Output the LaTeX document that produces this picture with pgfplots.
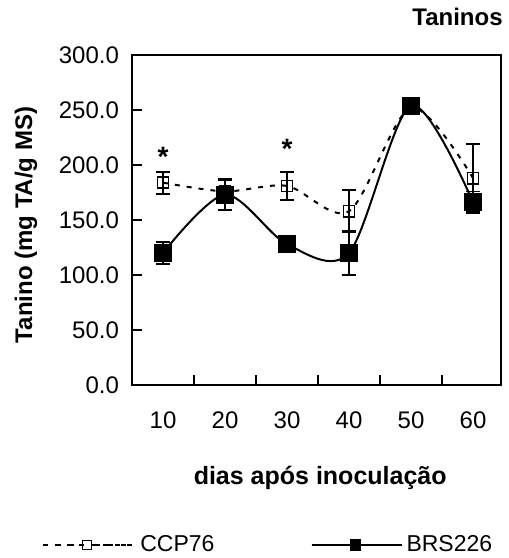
\documentclass[border=0pt]{standalone}
\usepackage{pgfplots}
\pgfplotsset{compat=1.18}
\usepackage{fontspec}
\setmainfont{Liberation Sans}
\begin{document}
\begin{tikzpicture}
\begin{axis}[
  width=184.5pt, height=165pt, scale only axis,
  font=\fontsize{12}{14}\selectfont,
  xmin=0.5, xmax=6.45, ymin=0, ymax=300,
  xtick={1.5,2.5,3.5,4.5,5.5}, xticklabels={},
  extra x ticks={1,2,3,4,5,6}, extra x tick labels={10,20,30,40,50,60},
  extra x tick style={major tick length=0pt, xticklabel style={yshift=-10pt}},
  major tick length=5pt, tick pos=left,
  tick align=inside, tick style={black, line width=0.7pt},
  ytick={0,50,...,300}, axis line style={line width=0.75pt},
  /pgf/number format/assume math mode=true,
  yticklabel style={/pgf/number format/fixed, /pgf/number format/fixed zerofill,
    /pgf/number format/precision=1, xshift=-3pt},
  xlabel={\fontsize{12.5}{14}\selectfont\bfseries dias após inoculação},
  xlabel style={at={(axis description cs:0.51,0)}, anchor=base, yshift=-49.5pt},
  ylabel={\bfseries Tanino (mg TA/g MS)},
  ylabel style={at={(axis description cs:0,0.485)}, anchor=center, rotate=0, yshift=53pt},
  title={\bfseries Taninos},
  title style={at={(axis description cs:1,1)}, anchor=base east, inner sep=0pt, xshift=1pt, yshift=9pt},
  legend style={at={(axis description cs:-0.244,-0.485)}, anchor=west, draw=none, inner sep=0pt,
    legend columns=2,
    /tikz/every even column/.append style={column sep=46pt}, font=\fontsize{11.5}{14}\selectfont},
  legend cell align=left,
]
\addplot[black, line width=1pt, dash pattern=on 2.5pt off 3.5pt, smooth, tension=0.5,
  mark=square, mark size=2.8pt, mark options={solid, fill=white, line width=0.8pt},
  legend image code/.code={
    \draw[black, line width=1pt, dash pattern=on 2.5pt off 3.8pt] (0pt,0pt) -- (19pt,0pt);
    \draw[black, line width=1pt, dash pattern=on 2.5pt off 3.8pt] (26pt,0pt) -- (44pt,0pt);
    \draw[black, solid, fill=white, line width=0.6pt] (19.5pt,-2.2pt) rectangle (24pt,2.2pt);
    \path (0pt,0pt) -- (46pt,0pt);},
  error bars/.cd, y dir=both, y explicit,
  error bar style={solid, line width=0.9pt},
  error mark options={rotate=90, mark size=3.5pt, line width=0.9pt}]
coordinates {
 (1,184) +- (0,10)
 (2,176) +- (0,10)
 (3,181) +- (0,13)
 (4,158) +- (0,19)
 (5,252) +- (0,2)
 (6,188) +- (0,31)
};
\addlegendentry{CCP76}
\addplot[black, line width=1pt, smooth, tension=0.5,
  mark=square*, mark size=4pt, mark options={solid, fill=black},
  legend image code/.code={
    \draw[black, line width=1pt] (0pt,0pt) -- (44pt,0pt);
    \fill[black] (19.5pt,-2.5pt) rectangle (24pt,2.5pt);
    \path (0pt,0pt) -- (45pt,0pt);},
  error bars/.cd, y dir=both, y explicit,
  error bar style={solid, line width=0.9pt},
  error mark options={rotate=90, mark size=3.5pt, line width=0.9pt}]
coordinates {
 (1,120) +- (0,10)
 (2,173) +- (0,14)
 (3,128) +- (0,6)
 (4,120) +- (0,20)
 (5,254) +- (0,2)
 (6,166) +- (0,10)
};
\addlegendentry{BRS226}
\addplot[only marks, mark=none, nodes near coords, point meta=explicit symbolic,
  nodes near coords style={font=\fontsize{14}{14}\selectfont\bfseries, anchor=center}]
coordinates {(1,207) [*] (3,215) [*]};
\end{axis}
\pgfresetboundingbox
\path ([xshift=-66pt,yshift=-86.5pt]current axis.south west) rectangle
      ([xshift=188.5pt,yshift=192.5pt]current axis.south west);
\end{tikzpicture}
\end{document}
